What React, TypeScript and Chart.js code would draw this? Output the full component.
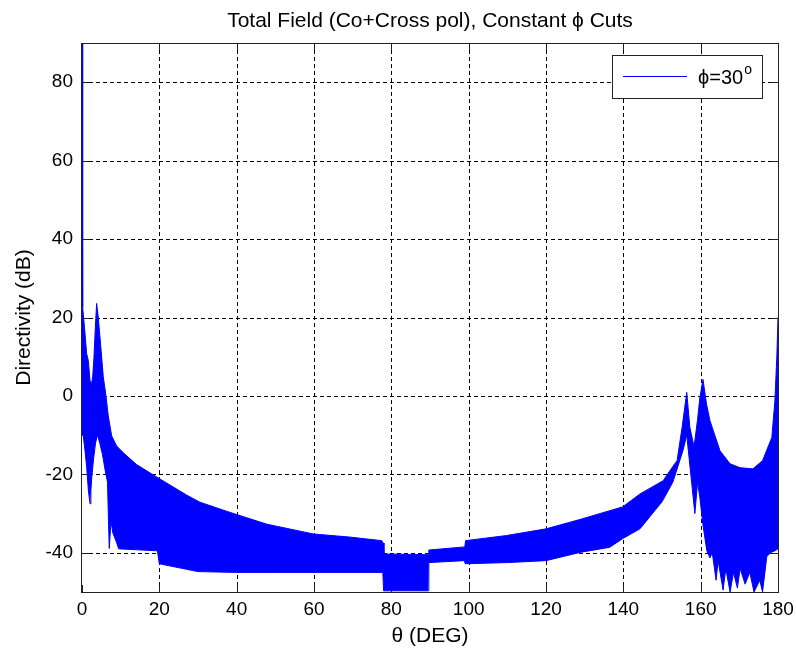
import { useEffect, useRef } from "react";
import { Chart, registerables } from "chart.js";

Chart.register(...registerables);

// ---- Data ----
// Upper envelope of the (densely oscillating) directivity trace
const thetaUpper = [
  0, 0.17, 0.78, 1.2, 1.64, 2.07, 2.5, 2.76, 3.1, 3.45, 3.79, 4.2, 4.65, 5.08, 5.5, 6.2, 6.8,
  7.67, 8.97, 10.7, 14.1, 19.7, 27.1, 30.5, 38.3, 47.8, 59.8, 69.3, 77.5, 77.9, 78.1, 89.5,
  89.7, 99.0, 99.2, 109.8, 120, 128.8, 139.8, 144.3, 150.3, 152.8, 153.9, 155.2, 156.4, 157.2,
  158.3, 159.2, 159.8, 160.6, 161.5, 162.4, 165, 167.6, 170.2, 173.5, 176, 178.4, 179.2, 179.7, 180,
];
const dirUpper = [
  90, 22.6, 15.9, 10.8, 9, 3.9, 3.2, 4.9, 9.9, 17.5, 23.6, 20.1, 15, 9.9, 4.9, 0, -5.1,
  -10.2, -12.8, -14.5, -17.5, -20.9, -25.3, -27.1, -29.7, -32.7, -35.2, -36, -36.9, -37.5, -40.3, -40.5,
  -39.3, -38.5, -36.9, -35.6, -33.9, -31.5, -28.3, -25, -21.6, -18, -16.5, -8, 0.9, -8,
  -13, -6, -0.4, 4.2, -2, -6.3, -14, -17.3, -18.3, -18.6, -16.5, -10.6, -1.2, 10, 20,
];
// Lower envelope of the trace
const thetaLower = [
  0, 0.3, 0.78, 1.2, 1.64, 2.07, 2.3, 2.6, 3.0, 3.5, 4.0, 4.6, 5.3, 6.0, 6.6, 6.8, 7.05, 7.5,
  8.0, 8.8, 9.5, 19.5, 20.0, 30, 40, 50, 60, 70, 77.8, 78.0, 89.5, 89.7, 98.9, 99.1, 110, 120,
  128.8, 136.5, 139.8, 144.3, 150, 152.8, 155.4, 156.4, 157.7, 158.5, 159.2, 159.8, 160.6,
  161.6, 162.4, 163, 164, 164.5, 165.8, 166.5, 167.6, 168.5, 169.5, 170.2, 171.5, 172.7, 173.8,
  175.3, 176, 177.1, 178, 179.2, 180,
];
const dirLower = [
  -10, -10, -14, -18, -24, -27.5, -24, -20, -16, -12, -10, -12, -15, -19, -22, -30, -38.9, -32,
  -35, -37, -39, -39.5, -42.8, -44.8, -45, -45, -45, -45, -45, -49.7, -49.7, -42.5, -42, -42.8, -42.5, -42,
  -39.9, -38.6, -36.4, -33.9, -27, -22, -14, -10, -22.4, -30, -22, -26, -33,
  -39.5, -41.3, -40, -47, -42, -49.5, -44, -50, -45, -49, -44, -48, -45, -50,
  -47, -50, -41, -40, -39.5, -39,
];

const xTicks = [0, 20, 40, 60, 80, 100, 120, 140, 160, 180];
const yTicks = [-40, -20, 0, 20, 40, 60, 80];
const xRange = [0, 180];
const yRange = [-50, 90];

const titleText = "Total Field (Co+Cross pol), Constant \u03d5 Cuts";
const xLabel = "\u03b8 (DEG)";
const yLabel = "Directivity (dB)";
const legendText = "\u03d5=30";
const legendSup = "o";

const FONT = '"Liberation Sans", Arial, Helvetica, sans-serif';
const BLUE = "#0000ff";

const matlabPlugin = {
  id: "matlabAxes",
  beforeDatasetsDraw(chart: any) {
    const { ctx, chartArea: a, scales } = chart;
    const x = scales.x;
    const y = scales.y;
    ctx.save();
    // dashed grid
    ctx.strokeStyle = "#000";
    ctx.lineWidth = 1;
    ctx.setLineDash([4, 3]);
    xTicks.forEach((v) => {
      if (v === xRange[0] || v === xRange[1]) return;
      const px = Math.round(x.getPixelForValue(v)) + 0.5;
      ctx.beginPath();
      ctx.moveTo(px, a.top);
      ctx.lineTo(px, a.bottom);
      ctx.stroke();
    });
    yTicks.forEach((v) => {
      const py = Math.round(y.getPixelForValue(v)) + 0.5;
      ctx.beginPath();
      ctx.moveTo(a.left, py);
      ctx.lineTo(a.right, py);
      ctx.stroke();
    });
    ctx.setLineDash([]);
    // frame
    ctx.strokeStyle = "#222";
    ctx.strokeRect(a.left - 0.5, a.top + 0.5, a.right - a.left + 1, a.bottom - a.top);
    // inward tick marks
    const tl = 7;
    ctx.beginPath();
    xTicks.forEach((v) => {
      const px = Math.round(x.getPixelForValue(v)) + 0.5;
      ctx.moveTo(px, a.bottom);
      ctx.lineTo(px, a.bottom - tl);
      ctx.moveTo(px, a.top);
      ctx.lineTo(px, a.top + tl);
    });
    yTicks.forEach((v) => {
      const py = Math.round(y.getPixelForValue(v)) + 0.5;
      ctx.moveTo(a.left, py);
      ctx.lineTo(a.left + tl, py);
      ctx.moveTo(a.right, py);
      ctx.lineTo(a.right - tl, py);
    });
    ctx.stroke();
    ctx.restore();
  },
  afterDraw(chart: any) {
    const { ctx, chartArea: a } = chart;
    const cx = (a.left + a.right) / 2;
    ctx.save();
    ctx.fillStyle = "#000";
    // title
    ctx.font = `21px ${FONT}`;
    ctx.textAlign = "center";
    ctx.textBaseline = "middle";
    ctx.fillText(titleText, cx, 21);
    // x label
    ctx.fillText(xLabel, cx, 636);
    // y label
    ctx.save();
    ctx.translate(24, (a.top + a.bottom) / 2);
    ctx.rotate(-Math.PI / 2);
    ctx.fillText(yLabel, 0, 0);
    ctx.restore();
    // legend
    const lx = 612, ly = 55, lw = 150, lh = 43;
    ctx.fillStyle = "#fff";
    ctx.fillRect(lx, ly, lw, lh);
    ctx.strokeStyle = "#222";
    ctx.lineWidth = 1;
    ctx.strokeRect(lx + 0.5, ly + 0.5, lw, lh);
    ctx.strokeStyle = BLUE;
    ctx.beginPath();
    ctx.moveTo(623, 76.5);
    ctx.lineTo(687, 76.5);
    ctx.stroke();
    ctx.fillStyle = "#000";
    ctx.textAlign = "left";
    ctx.font = `20px ${FONT}`;
    ctx.fillText(legendText, 698, 78);
    const w = ctx.measureText(legendText).width;
    ctx.font = `14px ${FONT}`;
    ctx.fillText(legendSup, 698 + w + 1, 70);
    ctx.restore();
  },
};

export default function App() {
  const canvasRef = useRef<HTMLCanvasElement | null>(null);

  useEffect(() => {
    document.body.style.margin = "0";
    const canvas = canvasRef.current;
    if (!canvas) return;
    const upper = thetaUpper.map((t, i) => ({ x: t, y: dirUpper[i] }));
    const lower = thetaLower.map((t, i) => ({ x: t, y: dirLower[i] }));
    const chart = new Chart(canvas, {
      type: "line",
      data: {
        datasets: [
          {
            label: "\u03d5=30\u00b0",
            data: upper,
            borderColor: BLUE,
            backgroundColor: BLUE,
            borderWidth: 1,
            pointRadius: 0,
            tension: 0,
            fill: "+1",
          },
          {
            label: "lower",
            data: lower,
            borderColor: BLUE,
            backgroundColor: BLUE,
            borderWidth: 1,
            pointRadius: 0,
            tension: 0,
            fill: false,
          },
        ],
      },
      options: {
        responsive: false,
        animation: false,
        devicePixelRatio: 1,
        parsing: false,
        layout: { padding: { top: 43, right: 18, left: 0, bottom: 0 } },
        plugins: {
          legend: { display: false },
          title: { display: false },
          tooltip: { enabled: false },
        },
        scales: {
          x: {
            type: "linear",
            min: xRange[0],
            max: xRange[1],
            afterBuildTicks: (s: any) => {
              s.ticks = xTicks.map((v) => ({ value: v }));
            },
            afterFit: (s: any) => {
              s.height = 59;
              s.paddingLeft = 0;
              s.paddingRight = 0;
            },
            grid: { display: false, drawTicks: false },
            border: { display: false },
            ticks: {
              padding: 6,
              maxRotation: 0,
              autoSkip: false,
              color: "#000",
              font: { family: FONT, size: 19 },
            },
          },
          y: {
            type: "linear",
            min: yRange[0],
            max: yRange[1],
            afterBuildTicks: (s: any) => {
              s.ticks = yTicks.map((v) => ({ value: v }));
            },
            afterFit: (s: any) => {
              s.width = 82;
              s.paddingTop = 0;
              s.paddingBottom = 0;
            },
            grid: { display: false, drawTicks: false },
            border: { display: false },
            ticks: {
              padding: 9,
              autoSkip: false,
              color: "#000",
              font: { family: FONT, size: 19 },
            },
          },
        },
      },
      plugins: [matlabPlugin],
    });
    return () => chart.destroy();
  }, []);

  return (
    <div style={{ position: "fixed", left: 0, top: 0, width: 796, height: 651, background: "#fff" }}>
      <canvas ref={canvasRef} width={796} height={651} style={{ width: 796, height: 651, display: "block" }} />
    </div>
  );
}
